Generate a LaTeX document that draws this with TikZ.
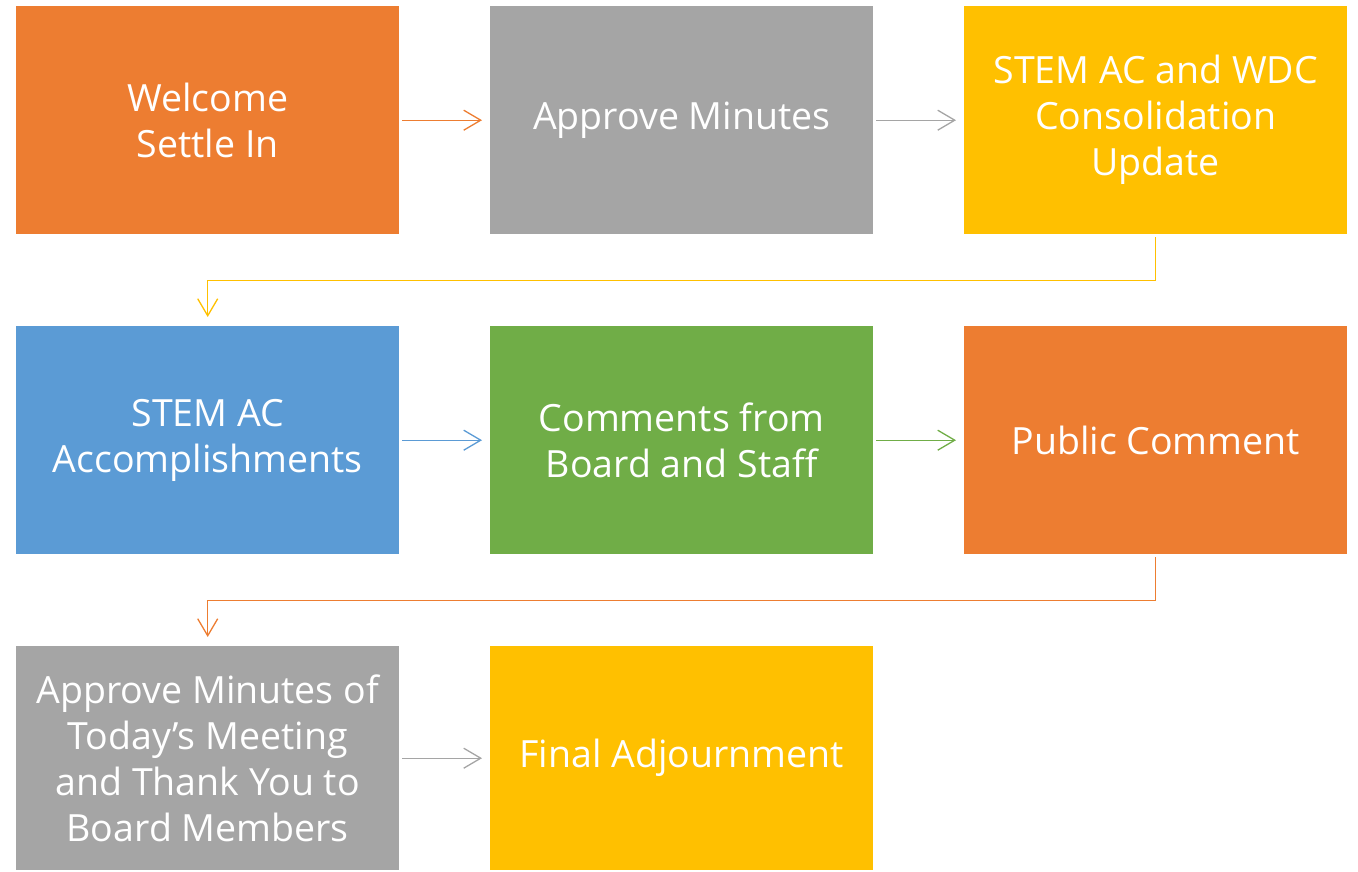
\documentclass[tikz,border=0pt]{standalone}
\usepackage{fontspec}
\setmainfont{Open Sans}
\usetikzlibrary{arrows.meta}
\definecolor{corange}{HTML}{ED7D31}
\definecolor{cgrey}{HTML}{A5A5A5}
\definecolor{cyellow}{HTML}{FFC000}
\definecolor{cblue}{HTML}{5B9BD5}
\definecolor{cgreen}{HTML}{70AD47}
\begin{document}
\begin{tikzpicture}[x=1pt,y=-1pt,
  box/.style={fill=#1, draw=none, minimum width=383pt, minimum height=228pt, inner sep=0pt,
    text=white, align=center, font=\fontsize{37.5}{46}\selectfont, anchor=north west},
  conn/.style={draw=#1, line width=1.3pt, -{Straight Barb[length=17pt,width=20pt,line width=1.3pt]}}
]
\useasboundingbox (0,0) rectangle (1358,871);
\node[box=corange] (a) at (16,6) {Welcome\\Settle In};
\node[box=cgrey] (b) at (490,6) {Approve Minutes};
\node[box=cyellow] (c) at (964,6) {STEM AC and WDC\\Consolidation\\Update};
\node[box=cblue] (d) at (16,326) {STEM AC\\Accomplishments};
\node[box=cgreen] (e) at (490,326) {Comments from\\Board and Staff};
\node[box=corange] (f) at (964,326) {Public Comment};
\node[box=cgrey, minimum height=224pt] (g) at (16,646) {Approve Minutes of\\Today’s Meeting\\and Thank You to\\Board Members};
\node[box=cyellow, minimum height=224pt] (h) at (490,646) {Final Adjournment};
\draw[conn=corange] ([xshift=3pt]a.east) -- ([xshift=-8pt]b.west);
\draw[conn=cgrey] ([xshift=3pt]b.east) -- ([xshift=-8pt]c.west);
\draw[conn=cblue] ([xshift=3pt]d.east) -- ([xshift=-8pt]e.west);
\draw[conn=cgreen] ([xshift=3pt]e.east) -- ([xshift=-8pt]f.west);
\draw[conn=cgrey] ([xshift=3pt]g.east) -- ([xshift=-8pt]h.west);
\draw[conn=cyellow] ([yshift=-3pt]c.south) -- ++(0,43) -| ([yshift=9pt]d.north);
\draw[conn=corange] ([yshift=-3pt]f.south) -- ++(0,43) -| ([yshift=9pt]g.north);
\end{tikzpicture}
\end{document}
